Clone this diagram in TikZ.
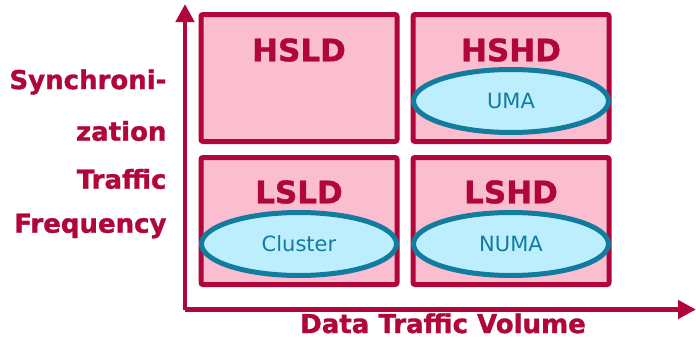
\documentclass[tikz,border=0pt]{standalone}
\usepackage{fontspec}
\setmainfont{DejaVu Sans}[BoldFeatures={FakeBold=1.2}]
\usetikzlibrary{shapes.geometric,arrows.meta}
\definecolor{crimson}{HTML}{B0063A}
\definecolor{rosefill}{HTML}{FBBDD0}
\definecolor{skyfill}{HTML}{BDEEFD}
\definecolor{tealline}{HTML}{127C9E}
\tikzset{
  quad/.style={draw=crimson, fill=rosefill, line width=5pt, rounded corners=2pt,
    minimum width=196pt, minimum height=127pt, inner sep=0pt},
  quadname/.style={font=\fontsize{31}{31}\selectfont\bfseries, text=crimson},
  arch/.style={ellipse, draw=tealline, fill=skyfill, line width=5pt,
    minimum width=195pt, minimum height=63pt, inner sep=0pt,
    font=\fontsize{21}{21}\selectfont, text=tealline},
  axislabel/.style={font=\fontsize{26}{26}\selectfont\bfseries, text=crimson},
  axis/.style={draw=crimson, line width=4.5pt, -{Triangle[length=18pt,width=18pt]}}
}
\begin{document}
\begin{tikzpicture}[x=1pt, y=-1pt]
\useasboundingbox (0,0) rectangle (696,340);
% quadrants
\node[quad] (hsld) at (299,78) {};
\node[quad] (hshd) at (511,78) {};
\node[quad] (lsld) at (299,221) {};
\node[quad] (lshd) at (511,221) {};
\node[quadname] at (299,50) {HSLD};
\node[quadname] at (511,50) {HSHD};
\node[quadname] at (299,192) {LSLD};
\node[quadname] at (511,192) {LSHD};
% architectures
\node[arch] (uma) at (511,101) {UMA};
\node[arch] (cluster) at (299,244) {Cluster};
\node[arch] (numa) at (511,244) {NUMA};
% axes
\coordinate (origin) at (185,309.5);
\coordinate (ytop) at (185,4);
\coordinate (xend) at (696,309.5);
\draw[axis] (origin) -- (ytop);
\draw[axis] (origin) -- (xend);
\node[axislabel, anchor=east] (sync) at (170,82) {Synchroni-};
\node[axislabel, anchor=east] (zation) at (170,131) {zation};
\node[axislabel, anchor=east] (traffic) at (170,179) {Traffic};
\node[axislabel, anchor=east] (freq) at (170,226) {Frequency};
\node[axislabel, anchor=base, inner sep=0pt] (volume) at (443,333) {Data Traffic Volume};
\end{tikzpicture}
\end{document}
